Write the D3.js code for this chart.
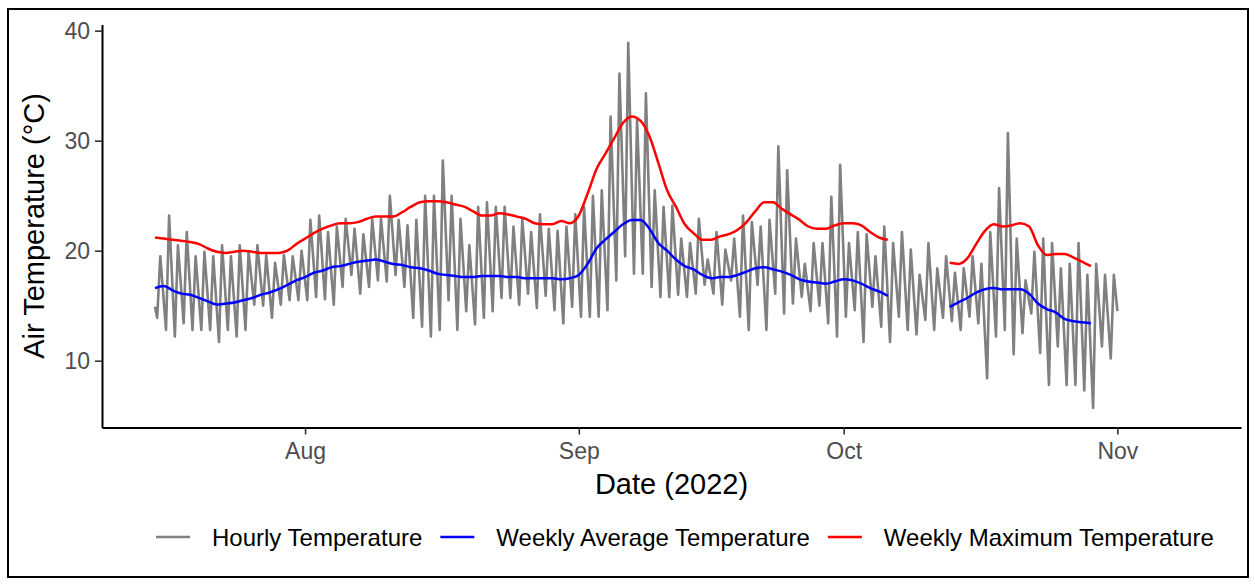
<!DOCTYPE html>
<html>
<head>
<meta charset="utf-8">
<script src="https://cdn.jsdelivr.net/npm/d3@7"></script>
<style>
  body { margin: 0; background: #fff; }
  svg { display: block; font-family: "Liberation Sans", Arial, sans-serif; }
</style>
</head>
<body>
<div id="chart"></div>
<script>
// day 0 = 15 Jul 2022 00:00 (UTC used so no DST jumps)
const startDay = Date.UTC(2022, 6, 15);
const dayMs = 864e5;

const hourlyFirst = 14.9;
const hourlyLast = 14.5;
const dailyLow = [
  13.9, 12.8, 12.2, 13.4, 12.8, 12.8, 12.8, 11.7, 12.8, 12.2,
  12.8, 15.1, 15.0, 13.9, 15.1, 15.5, 15.5, 15.5, 15.8, 15.6,
  15.1, 16.7, 17.8, 16.1, 16.7, 17.3, 17.2, 17.8, 16.7, 13.9,
  13.1, 12.2, 12.8, 15.5, 12.8, 14.5, 13.3, 13.9, 14.5, 15.7,
  15.7, 15.1, 16.1, 14.8, 15.9, 14.6, 13.4, 14.9, 14.0, 14.0,
  14.0, 14.6, 17.3, 19.5, 17.9, 17.9, 16.7, 15.8, 15.8, 16.0,
  15.8, 16.1, 16.9, 16.1, 15.1, 17.3, 14.0, 12.8, 16.9, 12.8,
  16.1, 14.3, 15.2, 15.8, 14.5, 15.0, 13.4, 12.2, 14.0, 14.6,
  11.7, 14.9, 13.1, 11.7, 14.0, 12.8, 12.4, 13.7, 12.8, 13.9,
  13.6, 12.8, 14.0, 13.4, 8.4, 12.2, 12.8, 10.6, 12.5, 14.3,
  10.7, 7.8, 11.3, 7.8, 7.8, 7.3, 5.7, 11.3, 10.2
];
const dailyHigh = [
  19.5, 23.2, 20.5, 21.7, 19.5, 19.9, 19.5, 20.5, 19.5, 20.5,
  19.9, 20.5, 19.6, 18.9, 19.6, 19.5, 20.0, 22.8, 23.2, 21.7,
  22.2, 22.9, 22.0, 21.5, 22.9, 22.9, 25.0, 22.8, 22.3, 22.8,
  25.0, 25.0, 28.2, 25.0, 22.9, 20.5, 24.0, 24.4, 24.0, 24.0,
  22.2, 22.9, 21.7, 23.3, 22.0, 21.8, 22.2, 23.3, 24.0, 25.0,
  25.5, 32.2, 36.1, 38.9, 31.9, 34.3, 25.5, 24.0, 24.1, 21.1,
  20.7, 22.9, 19.2, 21.7, 20.1, 21.1, 23.2, 22.6, 22.2, 22.8,
  29.5, 27.3, 21.1, 18.8, 20.7, 20.7, 24.9, 27.8, 20.7, 21.7,
  21.5, 19.5, 22.2, 20.7, 21.7, 20.1, 17.8, 20.7, 18.4, 19.5,
  18.0, 18.4, 19.5, 18.8, 21.7, 25.7, 30.7, 21.1, 17.3, 19.9,
  21.1, 20.7, 18.4, 18.8, 20.7, 17.8, 18.8, 17.8, 17.8
];

// weekly lines, one value per day at 00:00, two runs with a gap between them
const segmentStartA = 0;
const segmentStartB = 90;
const weeklyAvgA = [
  16.6, 16.8, 16.4, 16.1, 16.0, 15.7, 15.4, 15.1, 15.2, 15.3,
  15.5, 15.7, 16.0, 16.2, 16.5, 16.9, 17.3, 17.6, 18.0, 18.2,
  18.5, 18.6, 18.8, 19.0, 19.1, 19.2, 19.0, 18.8, 18.7, 18.5,
  18.4, 18.2, 17.9, 17.8, 17.7, 17.6, 17.6, 17.7, 17.7, 17.7,
  17.6, 17.6, 17.5, 17.5, 17.5, 17.5, 17.4, 17.5, 17.8, 18.8,
  20.2, 21.0, 21.7, 22.4, 22.8, 22.8, 22.0, 20.7, 20.0, 19.2,
  18.6, 18.3, 17.8, 17.5, 17.6, 17.6, 17.8, 18.1, 18.4, 18.5,
  18.3, 18.1, 17.8, 17.4, 17.2, 17.1, 17.0, 17.2, 17.4, 17.3,
  17.0, 16.6, 16.3, 15.9
];
const weeklyAvgB = [
  14.9, 15.3, 15.7, 16.2, 16.5, 16.6, 16.5, 16.5, 16.5, 16.1,
  15.2, 14.7, 14.4, 13.8, 13.6, 13.5, 13.4
];
const weeklyMaxA = [
  21.2, 21.1, 21.0, 20.9, 20.8, 20.6, 20.2, 19.9, 19.8, 19.9,
  20.0, 19.9, 19.8, 19.8, 19.8, 20.0, 20.6, 21.1, 21.6, 22.0,
  22.3, 22.5, 22.5, 22.6, 22.9, 23.1, 23.1, 23.1, 23.5, 24.0,
  24.4, 24.5, 24.5, 24.4, 24.2, 24.0, 23.6, 23.2, 23.2, 23.4,
  23.3, 23.1, 22.9, 22.5, 22.4, 22.4, 22.7, 22.5, 23.2, 25.2,
  27.4, 28.8, 30.2, 31.6, 32.2, 31.8, 30.4, 28.0, 25.5, 24.0,
  22.4, 21.6, 21.0, 21.0, 21.3, 21.5, 21.9, 22.6, 23.6, 24.4,
  24.4, 23.8, 23.3, 22.8, 22.2, 22.0, 22.0, 22.3, 22.5, 22.5,
  22.3, 21.7, 21.2, 21.0
];
const weeklyMaxB = [
  18.9, 18.8, 19.3, 20.6, 21.8, 22.4, 22.2, 22.3, 22.5, 22.2,
  20.5, 19.6, 19.7, 19.7, 19.4, 19.0, 18.6
];

const xTicks = [Date.UTC(2022, 7, 1), Date.UTC(2022, 8, 1), Date.UTC(2022, 9, 1), Date.UTC(2022, 10, 1)];
const yTicks = [10, 20, 30, 40];
const legendLabels = ["Hourly Temperature", "Weekly Average Temperature", "Weekly Maximum Temperature"];

const colors = { hourly: "#808080", avg: "#0000FF", max: "#FF0000" };

class TemperatureChart {
    constructor(element) {
        this.W = 1255;
        this.H = 584;
        this.panel = { left: 102, right: 1241, top: 24.4, bottom: 427.5 };

        this.svg = d3.select(element).append("svg")
            .attr("width", this.W)
            .attr("height", this.H);

        this.xScale = d3.scaleUtc()
            .domain([new Date(Date.UTC(2022, 6, 9)), new Date(Date.UTC(2022, 10, 15))])
            .range([this.panel.left, this.panel.right]);
        this.yScale = d3.scaleLinear()
            .domain([3.93, 40.57])
            .range([this.panel.bottom, this.panel.top]);
    }

    toDate(t) {
        return new Date(startDay + t * dayMs);
    }

    render() {
        const x = this.xScale, y = this.yScale;

        // outer frame
        this.svg.append("rect")
            .attr("x", 8).attr("y", 9)
            .attr("width", 1240).attr("height", 568)
            .attr("fill", "none")
            .attr("stroke", "#000")
            .attr("stroke-width", 2);

        // hourly zigzag
        const hourly = [{ t: 0, v: hourlyFirst }];
        dailyLow.forEach((lo, d) => {
            hourly.push({ t: d + 0.25, v: lo });
            hourly.push({ t: d + 0.6, v: dailyHigh[d] });
        });
        hourly.push({ t: dailyLow.length, v: hourlyLast });

        const line = d3.line()
            .x(d => x(this.toDate(d.t)))
            .y(d => y(d.v));

        this.svg.append("path")
            .datum(hourly)
            .attr("d", line)
            .attr("fill", "none")
            .attr("stroke", colors.hourly)
            .attr("stroke-width", 2.6)
            .attr("stroke-linejoin", "round");

        const smooth = d3.line()
            .x(d => x(this.toDate(d.t)))
            .y(d => y(d.v))
            .curve(d3.curveMonotoneX);

        const seg = (vals, start) => vals.map((v, i) => ({ t: start + i, v: v }));

        [[weeklyAvgA, segmentStartA, colors.avg], [weeklyAvgB, segmentStartB, colors.avg],
         [weeklyMaxA, segmentStartA, colors.max], [weeklyMaxB, segmentStartB, colors.max]]
            .forEach(([vals, start, col]) => {
                this.svg.append("path")
                    .datum(seg(vals, start))
                    .attr("d", smooth)
                    .attr("fill", "none")
                    .attr("stroke", col)
                    .attr("stroke-width", 2.5);
            });

        // axes
        const yAxis = this.svg.append("g")
            .attr("transform", `translate(${this.panel.left},0)`)
            .call(d3.axisLeft(y).tickValues(yTicks).tickSize(7).tickSizeOuter(0).tickPadding(5));
        const xAxis = this.svg.append("g")
            .attr("transform", `translate(0,${this.panel.bottom})`)
            .call(d3.axisBottom(x).tickValues(xTicks.map(d => new Date(d)))
                .tickFormat(d3.utcFormat("%b")).tickSize(7).tickSizeOuter(0).tickPadding(8));

        [yAxis, xAxis].forEach(g => {
            g.select(".domain").attr("stroke", "#000").attr("stroke-width", 2);
            g.selectAll(".tick line").attr("stroke", "#333").attr("stroke-width", 1.6);
            g.selectAll(".tick text")
                .attr("fill", "#4D4D4D")
                .style("font-size", "23px")
                .style("font-family", '"Liberation Sans", Arial, sans-serif');
        });

        // axis titles
        this.svg.append("text")
            .attr("x", (this.panel.left + this.panel.right) / 2)
            .attr("y", 494)
            .attr("text-anchor", "middle")
            .style("font-size", "29px")
            .text("Date (2022)");

        this.svg.append("text")
            .attr("transform", `translate(44,${(this.panel.top + this.panel.bottom) / 2}) rotate(-90)`)
            .attr("text-anchor", "middle")
            .style("font-size", "29px")
            .text("Air Temperature (°C)");

        // legend
        const legend = this.svg.append("g").attr("transform", "translate(156,537)");
        const keyColors = [colors.hourly, colors.avg, colors.max];
        let cx = 0;
        legendLabels.forEach((label, i) => {
            legend.append("line")
                .attr("x1", cx).attr("x2", cx + 34)
                .attr("stroke", keyColors[i])
                .attr("stroke-width", 2.5);
            const txt = legend.append("text")
                .attr("x", cx + 56)
                .attr("y", 8.5)
                .style("font-size", "24px")
                .text(label);
            cx += 56 + txt.node().getComputedTextLength() + 18;
        });
    }
}

const chart = new TemperatureChart(document.getElementById("chart"));
chart.render();
</script>
</body>
</html>
